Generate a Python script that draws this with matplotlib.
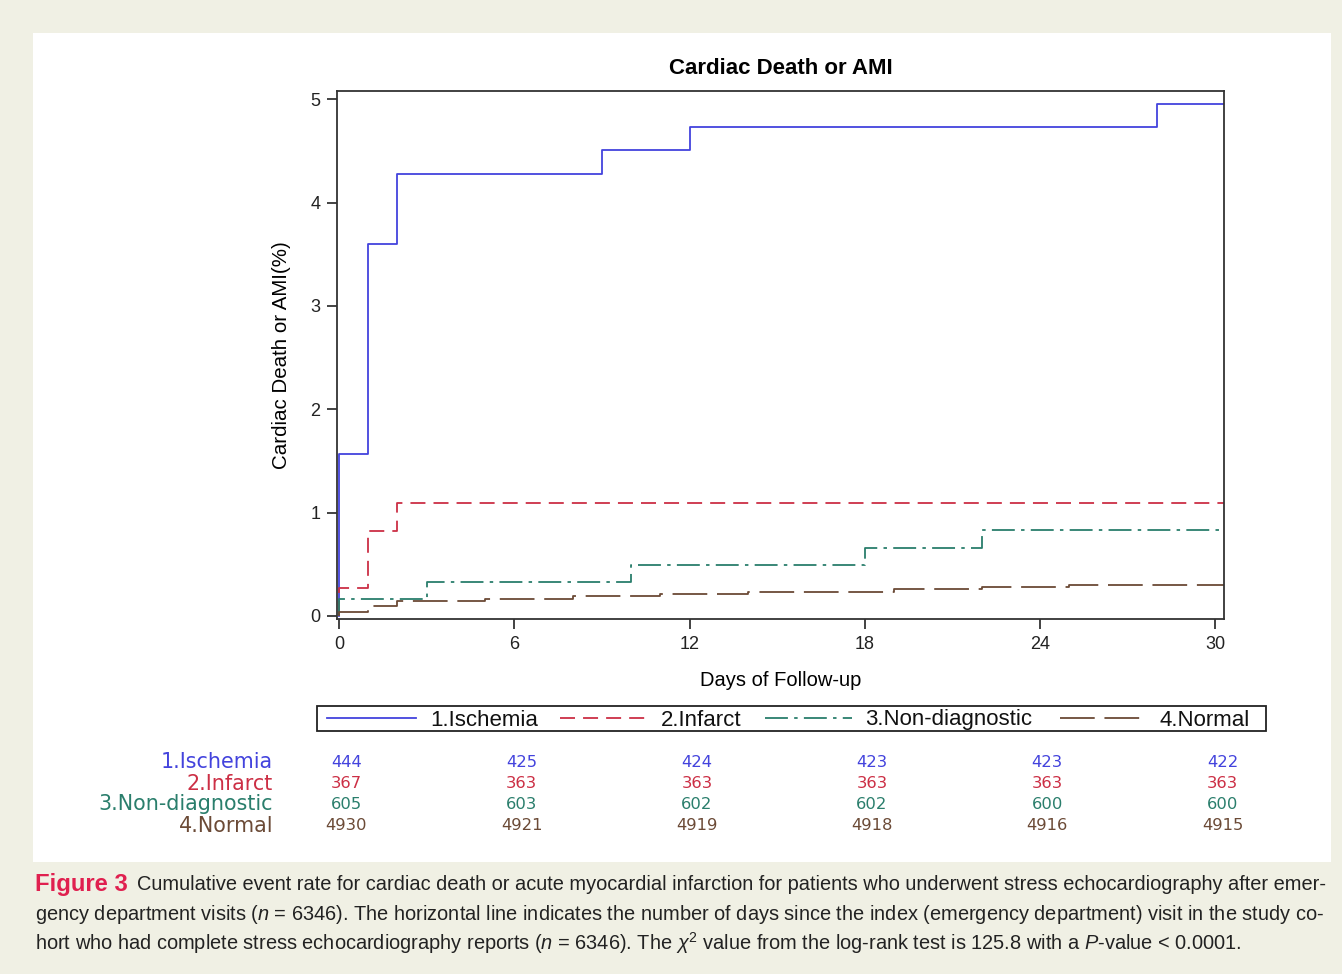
import matplotlib
matplotlib.use("Agg")
import matplotlib.pyplot as plt
from matplotlib.lines import Line2D
from matplotlib.patches import Rectangle
import matplotlib.transforms as mtransforms

plt.rcParams['font.family'] = ['Liberation Sans', 'DejaVu Sans']
plt.rcParams['lines.scale_dashes'] = False
plt.rcParams['mathtext.fontset'] = 'custom'
plt.rcParams['mathtext.rm'] = 'Liberation Sans'
plt.rcParams['mathtext.it'] = 'Liberation Sans:italic'

# ---------------- data ----------------
groups = ["1.Ischemia", "2.Infarct", "3.Non-diagnostic", "4.Normal"]

isch_days = [0, 0, 1, 2, 9, 12, 28, 30.3]
isch_vals = [0, 1.57, 3.60, 4.28, 4.51, 4.73, 4.95, 4.95]

infarct_days = [0, 0, 1, 2, 30.3]
infarct_vals = [0, 0.27, 0.82, 1.09, 1.09]

nondiag_days = [0, 0, 3, 10, 18, 22, 30.3]
nondiag_vals = [0, 0.16, 0.33, 0.49, 0.66, 0.83, 0.83]

normal_days = [0, 0, 1, 2, 5, 8, 11, 14, 19, 22, 25, 30.3]
normal_vals = [0, 0.04, 0.10, 0.14, 0.16, 0.19, 0.21, 0.23, 0.26, 0.28, 0.30, 0.30]

risk_days = [0, 6, 12, 18, 24, 30]
risk_isch = [444, 425, 424, 423, 423, 422]
risk_infarct = [367, 363, 363, 363, 363, 363]
risk_nondiag = [605, 603, 602, 602, 600, 600]
risk_normal = [4930, 4921, 4919, 4918, 4916, 4915]

x_ticks = [0, 6, 12, 18, 24, 30]
y_ticks = [0, 1, 2, 3, 4, 5]

caption_lines = [
    "Cumulative event rate for cardiac death or acute myocardial infarction for patients who underwent stress echocardiography after emer-",
    r"gency department visits ($\mathit{n}$ = 6346). The horizontal line indicates the number of days since the index (emergency department) visit in the study co-",
    r"hort who had complete stress echocardiography reports ($\mathit{n}$ = 6346). The $\mathit{\chi}^2$ value from the log-rank test is 125.8 with a $\mathit{P}$-value < 0.0001.",
]

colors = ["#4343dd", "#cc2f45", "#2a7e6c", "#6b4a36"]
dashes = [None, (10.8, 5.8), (16.5, 4.5, 2.5, 4.5), (25, 7)]

# ---------------- figure ----------------
W, H = 1342, 974
fig = plt.figure(figsize=(W / 100, H / 100), dpi=100, facecolor="#f0f0e4")

def fx(px):
    return px / W

def fy(py):
    return 1 - py / H

# white panel (behind everything)
fig.patches.append(Rectangle((fx(33), fy(862)), fx(1331) - fx(33), fy(33) - fy(862),
                             transform=fig.transFigure, facecolor="white",
                             edgecolor="none", zorder=-10))

ax = fig.add_axes([fx(337), fy(619), fx(1224) - fx(337), fy(91) - fy(619)])
ax.set_facecolor("white")

series = [(isch_days, isch_vals), (infarct_days, infarct_vals),
          (nondiag_days, nondiag_vals), (normal_days, normal_vals)]
for (d, v), c, ds in zip(series, colors, dashes):
    ln, = ax.step(d, v, where="post", color=c, lw=1.3)
    if ds is not None:
        ln.set_dashes(ds)

ax.set_xlim(-0.07, 30.3)
ax.set_ylim(-0.03, 5.08)
ax.set_xticks(x_ticks)
ax.set_yticks(y_ticks)
ax.tick_params(axis="both", direction="out", length=7, width=1.2, labelsize=13,
               colors="#222222", pad=5)
ax.tick_params(top=False, right=False)
for s in ax.spines.values():
    s.set_linewidth(1.3)
    s.set_color("#333333")

ax.set_title("Cardiac Death or AMI", fontsize=16, fontweight="bold", pad=12)
ax.set_xlabel("Days of Follow-up", fontsize=14.5, labelpad=13)
ax.set_ylabel("Cardiac Death or AMI(%)", fontsize=14.8, labelpad=14)

# ---------------- legend (manual) ----------------
fig.patches.append(Rectangle((fx(317), fy(731)), fx(1266) - fx(317), fy(706) - fy(731),
                             transform=fig.transFigure, facecolor="white",
                             edgecolor="#222222", lw=1.3, zorder=2))
leg_line_x = [(327, 416), (560, 650), (765, 852), (1060, 1148)]
leg_text_x = [430, 661, 865, 1160]
for (x0, x1), tx, c, ds, g in zip(leg_line_x, leg_text_x, colors, dashes, groups):
    l = Line2D([fx(x0), fx(x1)], [fy(718), fy(718)], transform=fig.transFigure,
               color=c, lw=1.3, zorder=3)
    if ds is not None:
        l.set_dashes(ds)
    fig.lines.append(l)
    fig.text(fx(tx), fy(725.5), g, fontsize=16, va="baseline", ha="left", zorder=3,
             color="#111111")

# ---------------- at-risk table ----------------
row_y = [761, 782, 803, 824]
risk_rows = [risk_isch, risk_infarct, risk_nondiag, risk_normal]
trans = mtransforms.blended_transform_factory(ax.transData, fig.transFigure)
for g, ry, vals, c in zip(groups, row_y, risk_rows, colors):
    fig.text(fx(273), fy(ry + 7.5), g, fontsize=14.9, ha="right", va="baseline",
             color=c, family=["DejaVu Sans"])
    for d, v in zip(risk_days, vals):
        ax.text(d + 0.25, fy(ry + 6), str(v), transform=trans, fontsize=11.8,
                ha="center", va="baseline", color=c, family=["DejaVu Sans"],
                clip_on=False)

# ---------------- caption ----------------
renderer = fig.canvas.get_renderer()

def fit(txt, target_px):
    w = txt.get_window_extent(renderer).width
    txt.set_fontsize(txt.get_fontsize() * target_px / w)

t1 = fig.text(fx(35), fy(884), "Figure 3", fontsize=17, fontweight="bold",
              color="#e0204f", va="center", ha="left")
fit(t1, 93)
c1 = ax.annotate(caption_lines[0], xy=(1, 0.5), xycoords=t1, xytext=(7, 0),
                 textcoords="offset points", fontsize=15, va="center", ha="left",
                 color="#222222", annotation_clip=False)
fit(c1, 1330 - 137)
c2 = fig.text(fx(35), fy(914), caption_lines[1], fontsize=15, va="center", ha="left",
              color="#222222")
fit(c2, 1330 - 35)
c3 = fig.text(fx(35), fy(943), caption_lines[2], fontsize=15, va="center", ha="left",
              color="#222222")
c3.set_fontsize(c2.get_fontsize())

fig.savefig("out.png", dpi=100, facecolor=fig.get_facecolor())
